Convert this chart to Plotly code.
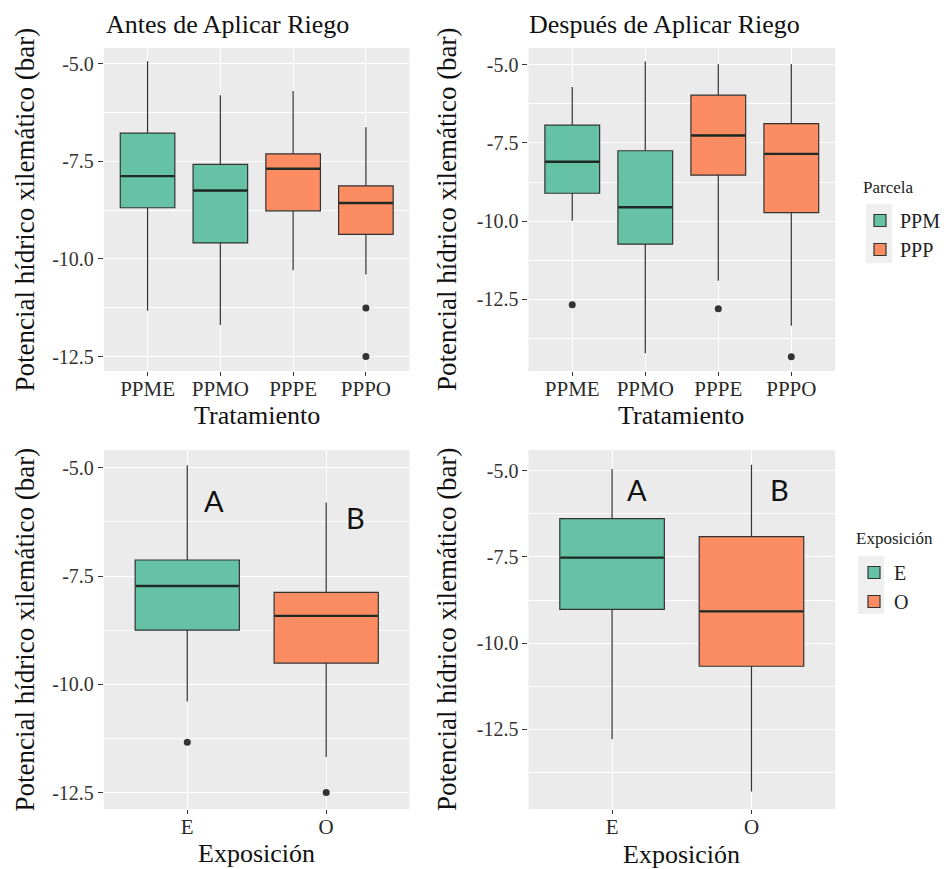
import plotly.graph_objects as go

W, H = 946, 869

# ---------------- data ----------------
trat_cats = ["PPME", "PPMO", "PPPE", "PPPO"]
trat_group = ["PPM", "PPM", "PPP", "PPP"]

# Antes de aplicar riego (per tratamiento)
antes_upper = [-4.94, -5.81, -5.70, -6.63]
antes_q3 = [-6.78, -7.58, -7.31, -8.13]
antes_med = [-7.88, -8.25, -7.69, -8.57]
antes_q1 = [-8.69, -9.59, -8.77, -9.37]
antes_lower = [-11.33, -11.69, -10.29, -10.40]
antes_out_x = ["PPPO", "PPPO"]
antes_out_y = [-11.26, -12.50]

# Después de aplicar riego (per tratamiento)
desp_upper = [-5.71, -4.89, -4.97, -4.97]
desp_q3 = [-6.93, -7.75, -5.97, -6.88]
desp_med = [-8.10, -9.56, -7.26, -7.85]
desp_q1 = [-9.11, -10.74, -8.53, -9.73]
desp_lower = [-9.99, -14.23, -11.91, -13.35]
desp_out_x = ["PPME", "PPPE", "PPPO"]
desp_out_y = [-12.68, -12.81, -14.34]

# Exposición
expo_cats = ["E", "O"]
antesE_upper = [-4.94, -5.80]
antesE_q3 = [-7.13, -7.88]
antesE_med = [-7.73, -8.42]
antesE_q1 = [-8.75, -9.51]
antesE_lower = [-10.40, -11.68]
antesE_out_x = ["E", "O"]
antesE_out_y = [-11.34, -12.50]

despE_upper = [-4.95, -4.83]
despE_q3 = [-6.39, -6.91]
despE_med = [-7.52, -9.08]
despE_q1 = [-9.02, -10.67]
despE_lower = [-12.79, -14.30]

letters = ["A", "B"]
letters_antes_xy = [(0.19, -5.75), (1.21, -6.14)]
letters_desp_xy = [(0.18, -5.54), (1.20, -5.54)]

ytick_vals = [-5.0, -7.5, -10.0, -12.5]
ytick_text = ["-5.0", "-7.5", "-10.0", "-12.5"]

colors = {"PPM": "#66C2A5", "PPP": "#FC8D62", "E": "#66C2A5", "O": "#FC8D62"}

# ---------------- layout geometry (px) ----------------
def px_x(a, b):
    return [a / W, b / W]

def px_y(top, bottom):
    return [1 - bottom / H, 1 - top / H]

dom = {
    1: (px_x(104, 410), px_y(48, 371)),
    2: (px_x(529, 836), px_y(48, 371)),
    3: (px_x(104, 410), px_y(450, 809)),
    4: (px_x(529, 836), px_y(450, 809)),
}
yranges = {1: [-12.87, -4.60], 2: [-14.80, -4.46], 3: [-12.88, -4.59], 4: [-14.81, -4.40]}
xranges = {1: [-0.6, 3.6], 2: [-0.6, 3.6], 3: [-0.6, 1.6], 4: [-0.6, 1.6]}
box_px = {1: 55, 2: 55, 3: 104, 4: 104}

SERIF = "Liberation Serif"

fig = go.Figure()


def add_panel(p, cats, groups, up, q3, med, q1, lo, out_x, out_y, legend=None):
    xa = "x" if p == 1 else f"x{p}"
    ya = "y" if p == 1 else f"y{p}"
    seen = []
    for g in groups:
        if g not in seen:
            seen.append(g)
    for g in seen:
        idx = [i for i, gg in enumerate(groups) if gg == g]
        fig.add_trace(go.Box(
            x=[cats[i] for i in idx],
            q1=[q1[i] for i in idx], median=[med[i] for i in idx], q3=[q3[i] for i in idx],
            lowerfence=[lo[i] for i in idx], upperfence=[up[i] for i in idx],
            name=g, width=0.75, whiskerwidth=0,
            fillcolor=colors[g], line=dict(color="#333333", width=1.2),
            xaxis=xa, yaxis=ya, hoverinfo="skip",
            showlegend=legend is not None, legend=legend if legend else "legend",
        ))
    # thicker median segment (line-ew symbol length = 1.4 * size)
    fig.add_trace(go.Scatter(
        x=cats, y=med, mode="markers",
        marker=dict(symbol="line-ew", size=(box_px[p] - 1) / 1.4,
                    line=dict(color="#1f2a24", width=2.4)),
        xaxis=xa, yaxis=ya, showlegend=False, hoverinfo="skip",
    ))
    if out_x:
        fig.add_trace(go.Scatter(
            x=out_x, y=out_y, mode="markers",
            marker=dict(color="#333333", size=7),
            xaxis=xa, yaxis=ya, showlegend=False, hoverinfo="skip",
        ))


add_panel(1, trat_cats, trat_group, antes_upper, antes_q3, antes_med, antes_q1, antes_lower,
          antes_out_x, antes_out_y)
add_panel(2, trat_cats, trat_group, desp_upper, desp_q3, desp_med, desp_q1, desp_lower,
          desp_out_x, desp_out_y, legend="legend")
add_panel(3, expo_cats, expo_cats, antesE_upper, antesE_q3, antesE_med, antesE_q1, antesE_lower,
          antesE_out_x, antesE_out_y)
add_panel(4, expo_cats, expo_cats, despE_upper, despE_q3, despE_med, despE_q1, despE_lower,
          [], [], legend="legend2")

layout = dict(
    width=W, height=H, margin=dict(l=0, r=0, t=0, b=0),
    paper_bgcolor="white", plot_bgcolor="#EBEBEB",
    font=dict(family=SERIF, color="#333333"),
    boxmode="overlay",
)
for p in range(1, 5):
    xk = "xaxis" if p == 1 else f"xaxis{p}"
    yk = "yaxis" if p == 1 else f"yaxis{p}"
    xd, yd = dom[p]
    layout[xk] = dict(
        domain=xd, anchor="y" if p == 1 else f"y{p}", type="category",
        range=xranges[p], showgrid=True, gridcolor="white", gridwidth=1.3,
        ticks="outside", ticklen=4, tickcolor="#333333", tickwidth=1,
        tickfont=dict(family=SERIF, size=21, color="#2a2a2a"),
        ticklabelstandoff=-5,
        showline=False, zeroline=False, fixedrange=True,
    )
    layout[yk] = dict(
        domain=yd, anchor="x" if p == 1 else f"x{p}",
        range=yranges[p], tickvals=ytick_vals, ticktext=ytick_text,
        showgrid=True, gridcolor="white", gridwidth=1.3,
        minor=dict(tick0=-6.25, dtick=2.5, showgrid=True, gridcolor="white", gridwidth=0.6),
        ticks="outside", ticklen=5, tickcolor="#333333", tickwidth=1,
        tickfont=dict(family=SERIF, size=20, color="#333333"),
        zeroline=False, showline=False, fixedrange=True,
    )

layout["legend"] = dict(
    x=861 / W, y=1 - 201 / H, xanchor="left", yanchor="top",
    font=dict(family=SERIF, size=20, color="#222222"),
    bgcolor="rgba(0,0,0,0)", tracegroupgap=2, itemwidth=30,
)
layout["legend2"] = dict(
    x=854 / W, y=1 - 553 / H, xanchor="left", yanchor="top",
    font=dict(family=SERIF, size=20, color="#222222"),
    bgcolor="rgba(0,0,0,0)", tracegroupgap=2, itemwidth=30,
)

# light key backgrounds behind legend symbols (ggplot legend.key)
layout["shapes"] = [
    dict(type="rect", xref="paper", yref="paper", layer="below", line=dict(width=0),
         fillcolor="#EFEFEF", x0=867 / W, x1=893 / W, y0=1 - 263 / H, y1=1 - 204 / H),
    dict(type="rect", xref="paper", yref="paper", layer="below", line=dict(width=0),
         fillcolor="#EFEFEF", x0=859 / W, x1=885 / W, y0=1 - 614 / H, y1=1 - 556 / H),
]

ann = []
# legend titles
ann.append(dict(text="Parcela", x=862 / W, y=1 - 188 / H, xref="paper", yref="paper",
                xanchor="left", yanchor="middle", showarrow=False,
                font=dict(family=SERIF, size=17, color="#222222")))
ann.append(dict(text="Exposición", x=855 / W, y=1 - 538 / H, xref="paper", yref="paper",
                xanchor="left", yanchor="middle", showarrow=False,
                font=dict(family=SERIF, size=17, color="#222222")))
# panel titles
ann.append(dict(text="Antes de Aplicar Riego", x=104 / W, y=1 - 25 / H, xref="paper", yref="paper",
                xanchor="left", yanchor="middle", showarrow=False,
                font=dict(family=SERIF, size=26, color="#111111")))
ann.append(dict(text="Después de Aplicar Riego", x=528 / W, y=1 - 25 / H, xref="paper", yref="paper",
                xanchor="left", yanchor="middle", showarrow=False,
                font=dict(family=SERIF, size=26, color="#111111")))
ytitle = "Potencial hídrico xilemático (bar)"
for xc, yc in [(25, 209.5), (447, 209.5), (25, 629.5), (447, 629.5)]:
    ann.append(dict(text=ytitle, x=xc / W, y=1 - yc / H, xref="paper", yref="paper",
                    xanchor="center", yanchor="middle", textangle=-90, showarrow=False,
                    font=dict(family=SERIF, size=27, color="#111111")))
for txt, xc, yc in [("Tratamiento", 257, 415), ("Tratamiento", 682, 415),
                    ("Exposición", 257, 853), ("Exposición", 682, 854)]:
    ann.append(dict(text=txt, x=xc / W, y=1 - yc / H, xref="paper", yref="paper",
                    xanchor="center", yanchor="middle", showarrow=False,
                    font=dict(family=SERIF, size=26, color="#111111")))
for (xx, yy), t in zip(letters_antes_xy, letters):
    ann.append(dict(text=t, x=xx, y=yy, xref="x3", yref="y3", showarrow=False,
                    xanchor="center", yanchor="middle",
                    font=dict(family="Lato, Open Sans, sans-serif", size=29, color="#111111")))
for (xx, yy), t in zip(letters_desp_xy, letters):
    ann.append(dict(text=t, x=xx, y=yy, xref="x4", yref="y4", showarrow=False,
                    xanchor="center", yanchor="middle",
                    font=dict(family="Lato, Open Sans, sans-serif", size=29, color="#111111")))
layout["annotations"] = ann

fig.update_layout(**layout)
fig.write_html("out.html")
